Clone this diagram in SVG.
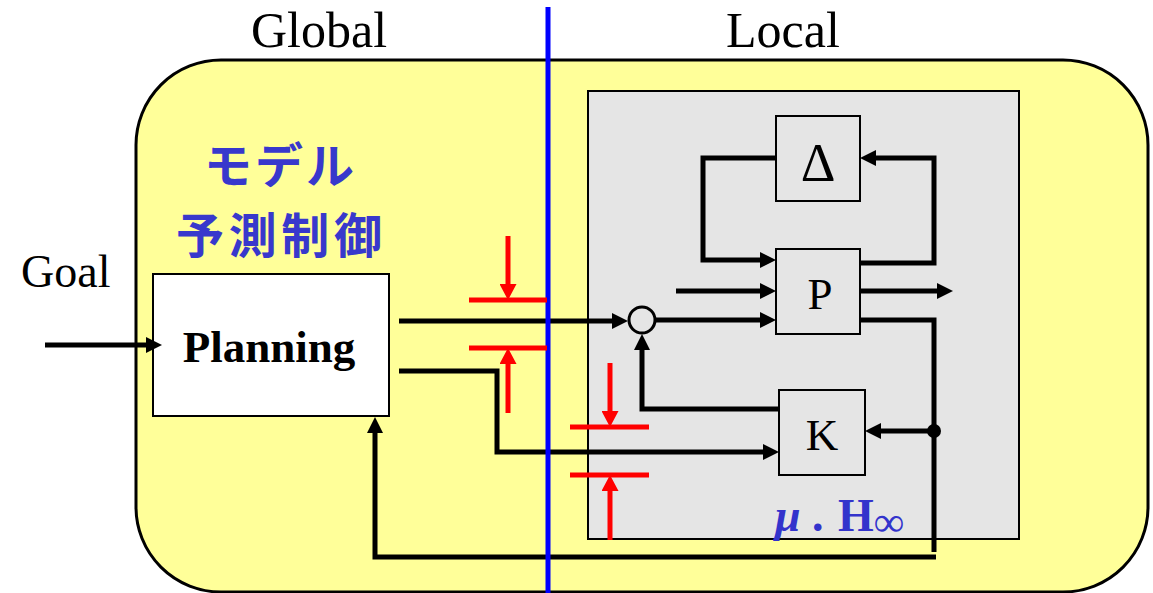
<svg xmlns="http://www.w3.org/2000/svg" width="1153" height="593" viewBox="0 0 1153 593">
<style>
.serif{font-family:"Liberation Serif","Times New Roman",serif;fill:#000}
.box{stroke:#000;stroke-width:2}
.conn{fill:none;stroke:#000;stroke-width:5}
.red{fill:none;stroke:#ff0000;stroke-width:5}
.jp{font-family:"Noto Sans CJK JP","Noto Sans",sans-serif;font-weight:bold;fill:#3838cc;font-size:48px}
.mu{font-family:"Liberation Serif","Times New Roman",serif;font-weight:bold;fill:#3333cc;font-size:46px}
</style>
<defs>
<marker id="ah" markerUnits="userSpaceOnUse" markerWidth="16" markerHeight="16" refX="3" refY="8" orient="auto">
<path d="M0,0 L16,8 L0,16 z" fill="#000"/>
</marker>
<marker id="rh" markerUnits="userSpaceOnUse" markerWidth="17" markerHeight="17" refX="3" refY="8.5" orient="auto">
<path d="M0,0 L16,8.5 L0,17 z" fill="#ff0000"/>
</marker>
</defs>
<rect width="1153" height="593" fill="#fff"/>
<g id="region">
<rect x="136" y="60" width="1012" height="532" rx="85" ry="85" fill="#ffff99" stroke="#000" stroke-width="3"/>
<rect x="588" y="91" width="431" height="448" fill="#e5e5e5" class="box"/>
</g>
<g id="labels">
<text class="serif" x="319" y="47" font-size="50" text-anchor="middle">Global</text>
<text class="serif" x="783" y="47" font-size="50" text-anchor="middle">Local</text>
<text class="serif" x="21" y="287" font-size="46">Goal</text>
<text class="jp" x="204" y="183" textLength="150" lengthAdjust="spacing">モデル</text>
<text class="jp" x="176" y="253" textLength="206" lengthAdjust="spacing">予測制御</text>
<text class="mu" x="775" y="531"><tspan font-style="italic">μ</tspan><tspan x="812">.</tspan><tspan x="838">H</tspan><tspan x="874" dy="5" font-size="42">∞</tspan></text>
</g>
<g id="planning">
<rect x="153" y="274" width="236" height="142" fill="#fff" class="box"/>
<text class="serif" x="269" y="362" font-size="45" font-weight="bold" text-anchor="middle">Planning</text>
</g>
<g id="delta">
<rect x="776" y="116" width="84" height="85" fill="#e5e5e5" class="box"/>
<text class="serif" x="818" y="181" font-size="54" text-anchor="middle">Δ</text>
</g>
<g id="plant">
<rect x="776" y="249" width="84" height="85" fill="#e5e5e5" class="box"/>
<text class="serif" x="820" y="309" font-size="45" text-anchor="middle">P</text>
</g>
<g id="controller">
<rect x="779" y="390" width="86" height="85" fill="#e5e5e5" class="box"/>
<text class="serif" x="822" y="450" font-size="45" text-anchor="middle">K</text>
</g>
<g id="sum">
<circle cx="642" cy="320" r="13" fill="#e5e5e5" stroke="#000" stroke-width="3"/>
</g>
<g id="connectors">
<path class="conn" d="M45,345 H149" marker-end="url(#ah)"/>
<path class="conn" d="M399,321 H615" marker-end="url(#ah)"/>
<path class="conn" d="M399,371 H497 V452 H766" marker-end="url(#ah)"/>
<path class="conn" d="M655,320 H763" marker-end="url(#ah)"/>
<path class="conn" d="M676,291 H763" marker-end="url(#ah)"/>
<path class="conn" d="M860,291 H940" marker-end="url(#ah)"/>
<path class="conn" d="M776,158 H703 V260 H763" marker-end="url(#ah)"/>
<path class="conn" d="M860,263 H934 V158 H873" marker-end="url(#ah)"/>
<path class="conn" d="M860,320 H934 V552"/>
<circle cx="934" cy="431" r="7" fill="#000"/>
<path class="conn" d="M934,431 H878" marker-end="url(#ah)"/>
<path class="conn" d="M779,409 H642 V347" marker-end="url(#ah)"/>
<path class="conn" d="M936,557 H375 V430" marker-end="url(#ah)"/>
</g>
<g id="divider">
<line x1="548" y1="7" x2="548" y2="593" stroke="#0000ff" stroke-width="5"/>
</g>
<g id="constraints">
<path class="red" d="M469,300 H547"/>
<path class="red" d="M508,236 V287" marker-end="url(#rh)"/>
<path class="red" d="M469,348 H547"/>
<path class="red" d="M508,413 V361" marker-end="url(#rh)"/>
<path class="red" d="M570,427 H649"/>
<path class="red" d="M610,363 V414" marker-end="url(#rh)"/>
<path class="red" d="M570,475 H649"/>
<path class="red" d="M610,540 V488" marker-end="url(#rh)"/>
</g>
</svg>
